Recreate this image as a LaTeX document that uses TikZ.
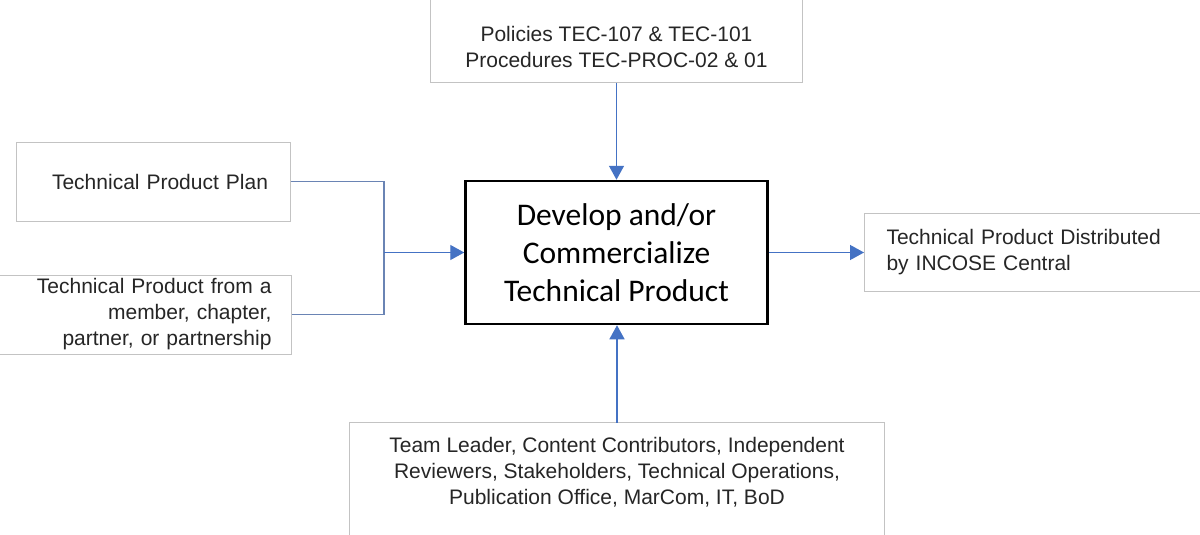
\documentclass[tikz,border=0pt]{standalone}
\usepackage{fontspec}
\setmainfont{Liberation Sans}
\newfontfamily\calib{Carlito}
\usetikzlibrary{arrows.meta}
\definecolor{boxgray}{HTML}{C3C3C3}
\definecolor{arrblue}{HTML}{4472C4}
\definecolor{lineblue}{HTML}{6A84B4}
\definecolor{txt}{HTML}{262626}
\begin{document}
\begin{tikzpicture}[x=1pt,y=-1pt,
  lbl/.style={font=\fontsize{21}{26}\selectfont, text=txt, inner sep=0pt},
  box/.style={draw=boxgray, line width=1pt},
  arr/.style={draw=arrblue, line width=1.4pt, -{Triangle[length=14pt,width=15pt]}},
  conn/.style={draw=lineblue, line width=1.4pt}
]
\clip (0,0) rectangle (1200,535);
\fill[white] (0,0) rectangle (1200,535);

\node[lbl, box, text width=230, align=right, inner xsep=22, minimum height=79] (plan) at (153,181.5) {Technical Product Plan};
\node[lbl, box, text width=280, align=right, inner xsep=20, minimum height=79, anchor=east] (member) at (292,314.5) {Technical Product from a\\member, chapter,\\partner, or partnership};

\node[draw=black, line width=2.5pt, minimum width=302, minimum height=143, inner sep=0pt,
  font=\calib\fontsize{31.5}{38}\selectfont, align=center] (main) at (616.5,252.5) {Develop and/or\\Commercialize\\Technical Product};

\node[lbl, minimum width=371, minimum height=71, align=center] (pol) at (616.5,47) {Policies TEC-107 \& TEC-101\\Procedures TEC-PROC-02 \& 01};
\draw[box] (pol.south west |- 0,-20) -- (pol.south west) -- (pol.south east) -- (pol.south east |- 0,-20);

\node[lbl, minimum width=534, minimum height=98, align=center] (team) at (617,472) {Team Leader, Content Contributors, Independent\\Reviewers, Stakeholders, Technical Operations,\\Publication Office, MarCom, IT, BoD};
\draw[box] (team.north west |- 0,560) -- (team.north west) -- (team.north east) -- (team.north east |- 0,560);

\node[lbl, box, anchor=west, text width=320, align=left, inner xsep=22, minimum height=78] (dist) at (864,252.5) {Technical Product Distributed\\by INCOSE Central};

\coordinate (j) at (384,252.5);
\draw[conn] (plan.east) -| (j);
\draw[conn] (member.east) -| (j);
\draw[arr] (j) -- (main.west);
\draw[arr] (pol.south) -- (pol.south |- main.north);
\draw[arr] (team.north) -- (team.north |- main.south);
\draw[arr] (main.east) -- (dist.west);
\end{tikzpicture}
\end{document}
